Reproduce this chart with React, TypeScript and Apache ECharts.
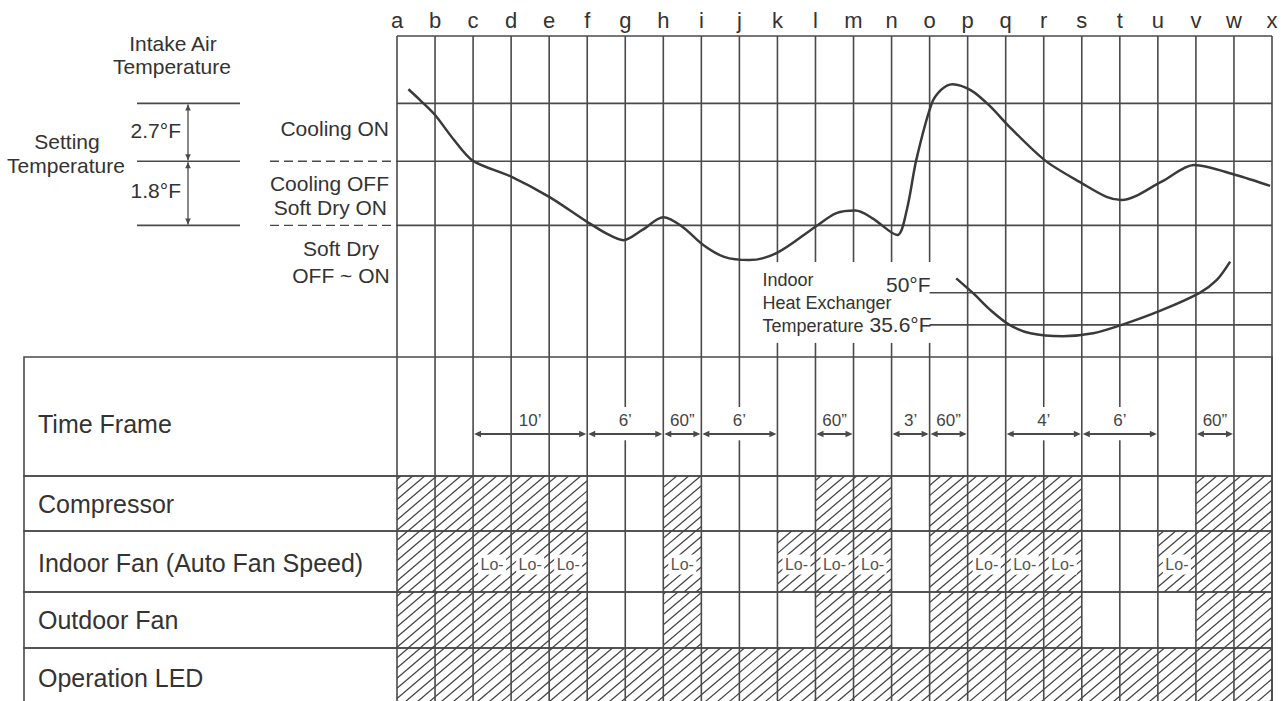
import React, { useEffect, useRef } from "react";
import * as echarts from "echarts";

// ---------------- data ----------------
const COLUMNS = ["a","b","c","d","e","f","g","h","i","j","k","l","m","n","o","p","q","r","s","t","u","v","w","x"];

// temperature levels (diagram units, 0 = bottom of diagram, 100 = top)
const LEVEL_COOLING_ON = 79;
const LEVEL_SETTING = 61;
const LEVEL_SOFT_DRY = 41;
const LEVEL_HEX_50F = 20;
const LEVEL_HEX_356F = 10;

// intake air temperature curve (x = column index a=0 ... x=23)
const INTAKE_X = [0.3, 0.6, 1.0, 1.5, 2.0, 3.0, 4.0, 5.0, 5.5, 5.95, 6.45, 7.0, 7.5, 8.05, 8.6, 9.25, 10.0, 11.0, 11.55, 12.05, 12.5, 13.15, 13.4, 13.65, 14.05, 14.3, 14.6, 15.1, 15.6, 16.1, 17.05, 18.05, 18.65, 19.05, 20.1, 20.95, 22.05, 22.95];
const INTAKE_Y = [83.4, 80.1, 75.4, 67.6, 61.1, 56.2, 49.9, 42.1, 38.5, 36.4, 39.6, 43.5, 40.6, 34.9, 31.2, 30.2, 32.5, 40.6, 44.8, 45.6, 43.2, 38.0, 45.8, 61.4, 78.8, 83.2, 85.0, 83.0, 78.0, 71.7, 61.1, 53.8, 49.9, 48.9, 54.6, 59.8, 56.7, 53.3];

// indoor heat exchanger temperature curve
const HEX_X = [14.7, 15.15, 15.6, 16.1, 16.65, 17.5, 18.3, 19.05, 20.1, 21.1, 21.55, 21.9];
const HEX_Y = [24.5, 19.8, 14.6, 10.0, 7.4, 6.5, 7.4, 10.0, 14.6, 20.0, 24.0, 29.7];

// time frames (column index from / to)
const TF_START = [2, 5, 7, 8, 11, 13, 14, 16, 18, 21];
const TF_END = [5, 7, 8, 10, 12, 14, 15, 18, 20, 22];
const TF_LABEL = ["10\u2019", "6\u2019", "60\u201D", "6\u2019", "60\u201D", "3\u2019", "60\u201D", "4\u2019", "6\u2019", "60\u201D"];

const ROW_NAMES = ["Time Frame", "Compressor", "Indoor Fan (Auto Fan Speed)", "Outdoor Fan", "Operation LED"];
const COMPRESSOR_ON = [[0, 5], [7, 8], [11, 13], [14, 18], [21, 23]];
const INDOOR_FAN_ON = [[0, 5], [7, 8], [10, 13], [14, 18], [20, 23]];
const INDOOR_FAN_LO = [2, 3, 4, 7, 10, 11, 12, 15, 16, 17, 20];
const OUTDOOR_FAN_ON = [[0, 5], [7, 8], [11, 13], [14, 18], [21, 23]];
const LED_ON = [[0, 23]];

// ---------------- layout / style ----------------
const W = 1283;
const H = 730;
const COL_LEFT = 397;
const RIGHT_PAD = 11;
const TABLE_LEFT = 24;
const DIAG_TOP = 36;
const ROW_TOPS = [357, 476, 531, 592, 648];
const ROW_HEIGHTS = [119, 55, 61, 56, 82];
const ROW_LABEL_POS = [0.563, 0.5, 0.53, 0.5, 0.366];
const BOX_FIRST_COL = 10;
const BOX_LAST_COL = 14;
const BOX_TOP_LEVEL = 29.6;
const BOX_BOTTOM_LEVEL = 4.4;
const TF_ARROW_POS = 0.647;
const TF_LABEL_POS = 0.53;
const TF_GAP_TOP = 0.42;
const TF_GAP_BOTTOM = 0.7;
const LO_POS = 0.55;
const HATCH_STEP = 12;
const HATCH_SLOPE = 0.85;

const LINE = "#4a4a4a";
const TEXT = "#333333";
const CURVE = "#3a3a3a";
const HATCH = "#444444";
const FONT = '"Liberation Sans", Arial, Helvetica, sans-serif';

type P = number[];

function seg(p1: P, p2: P, width = 1.6, color = LINE, dash?: number[]) {
  return {
    type: "line",
    shape: { x1: p1[0], y1: p1[1], x2: p2[0], y2: p2[1] },
    style: { stroke: color, lineWidth: width, lineDash: dash || null },
  };
}

function txt(text: string, x: number, y: number, size: number, align = "left", color = TEXT) {
  return {
    type: "text",
    x,
    y,
    style: {
      text,
      fill: color,
      font: `${size}px ${FONT}`,
      textAlign: align,
      textVerticalAlign: "middle",
      align,
      verticalAlign: "middle",
    },
  };
}

function head(tip: P, ux: number, uy: number, len = 7, half = 3.2, color = LINE) {
  const bx = tip[0] - ux * len;
  const by = tip[1] - uy * len;
  const nx = -uy;
  const ny = ux;
  return {
    type: "polygon",
    shape: { points: [[tip[0], tip[1]], [bx + nx * half, by + ny * half], [bx - nx * half, by - ny * half]] },
    style: { fill: color },
  };
}

function hatch(x0: number, x1: number, y0: number, y1: number, out: any[]) {
  const h = y1 - y0;
  const run = h / HATCH_SLOPE;
  const start = Math.floor((x0 - run) / HATCH_STEP) * HATCH_STEP;
  for (let cx = start; cx <= x1; cx += HATCH_STEP) {
    const xa = Math.max(cx, x0);
    const xb = Math.min(cx + run, x1);
    if (xb - xa < 0.5) continue;
    out.push(seg([xa, y1 - HATCH_SLOPE * (xa - cx)], [xb, y1 - HATCH_SLOPE * (xb - cx)], 1.25, HATCH));
  }
}

function buildOption() {
  const lastCol = COLUMNS.length - 1;
  const colStep = (W - RIGHT_PAD - COL_LEFT) / lastCol;
  const tableXMin = -(COL_LEFT - TABLE_LEFT) / colStep;
  const ROW_ON: any[] = [null, COMPRESSOR_ON, INDOOR_FAN_ON, OUTDOOR_FAN_ON, LED_ON];
  const ROW_LO: any[] = [null, null, INDOOR_FAN_LO, null, null];

  const grids: any[] = [
    { left: COL_LEFT, right: RIGHT_PAD, top: DIAG_TOP, height: ROW_TOPS[0] - DIAG_TOP, show: false },
  ];
  const xAxes: any[] = [
    {
      gridIndex: 0,
      type: "value",
      min: 0,
      max: lastCol,
      interval: 1,
      position: "top",
      axisLine: { show: false },
      axisTick: { show: false },
      splitLine: { show: false },
      axisLabel: {
        show: true,
        margin: 5,
        fontSize: 22,
        fontFamily: FONT,
        color: TEXT,
        showMinLabel: true,
        showMaxLabel: true,
        formatter: (v: number) => COLUMNS[Math.round(v)] ?? "",
      },
    },
  ];
  const yAxes: any[] = [{ gridIndex: 0, type: "value", min: 0, max: 100, show: false }];

  ROW_NAMES.forEach((_, r) => {
    grids.push({
      left: TABLE_LEFT,
      right: RIGHT_PAD,
      top: ROW_TOPS[r],
      height: ROW_HEIGHTS[r],
      show: true,
      borderColor: LINE,
      borderWidth: 1.6,
      backgroundColor: "transparent",
    });
    xAxes.push({ gridIndex: r + 1, type: "value", min: tableXMin, max: lastCol, show: false });
    yAxes.push({ gridIndex: r + 1, type: "value", min: 0, max: 1, inverse: true, show: false });
  });

  const renderDiagram = (_p: any, api: any) => {
    const c = (x: number, y: number) => api.coord([x, y]);
    const ch: any[] = [];
    ch.push(seg(c(0, 100), c(lastCol, 100)));
    COLUMNS.forEach((_, i) => {
      if (i >= BOX_FIRST_COL && i <= BOX_LAST_COL) {
        ch.push(seg(c(i, 100), c(i, BOX_TOP_LEVEL)));
        ch.push(seg(c(i, BOX_BOTTOM_LEVEL), c(i, 0)));
      } else {
        ch.push(seg(c(i, 100), c(i, 0)));
      }
    });
    [LEVEL_COOLING_ON, LEVEL_SETTING, LEVEL_SOFT_DRY].forEach((l) => ch.push(seg(c(0, l), c(lastCol, l))));
    [LEVEL_HEX_50F, LEVEL_HEX_356F].forEach((l) => ch.push(seg(c(BOX_LAST_COL, l), c(lastCol, l))));

    const ax = c(0, 0)[0];
    const yOn = c(0, LEVEL_COOLING_ON)[1];
    const ySet = c(0, LEVEL_SETTING)[1];
    const yDry = c(0, LEVEL_SOFT_DRY)[1];
    [ySet, yDry].forEach((y) => ch.push(seg([ax - 127, y], [ax, y], 1.4, LINE, [9, 5])));
    [yOn, ySet, yDry].forEach((y) => ch.push(seg([137, y], [240, y])));
    const arrowX = 188;
    [[yOn, ySet], [ySet, yDry]].forEach(([ya, yb]) => {
      ch.push(seg([arrowX, ya + 1], [arrowX, yb - 1], 1.3));
      ch.push(head([arrowX, ya + 1], 0, -1, 6, 2.8));
      ch.push(head([arrowX, yb - 1], 0, 1, 6, 2.8));
    });

    ch.push(txt("Intake Air", 173, 43, 21, "center"));
    ch.push(txt("Temperature", 172, 66, 21, "center"));
    ch.push(txt("2.7\u00B0F", 181, 130, 21, "right"));
    ch.push(txt("1.8\u00B0F", 181, 190, 21, "right"));
    ch.push(txt("Setting", 67, 141, 21, "center"));
    ch.push(txt("Temperature", 66, 165, 21, "center"));
    ch.push(txt("Cooling ON", ax - 8, 128, 21, "right"));
    ch.push(txt("Cooling OFF", ax - 8, 183, 21, "right"));
    ch.push(txt("Soft Dry ON", ax - 10, 207, 21, "right"));
    ch.push(txt("Soft Dry", ax - 56, 248, 21, "center"));
    ch.push(txt("OFF ~ ON", ax - 56, 275, 21, "center"));

    const boxLeft = c(BOX_FIRST_COL, 0)[0] - 15;
    const xo = c(BOX_LAST_COL, 0)[0];
    ch.push(txt("Indoor", boxLeft, 280, 18, "left"));
    ch.push(txt("Heat Exchanger", boxLeft, 303, 18, "left"));
    ch.push(txt("Temperature", boxLeft, c(0, LEVEL_HEX_356F)[1] + 1, 18, "left"));
    ch.push(txt("50\u00B0F", xo + 1, c(0, LEVEL_HEX_50F)[1] - 8, 21, "right"));
    ch.push(txt("35.6\u00B0F", xo + 2, c(0, LEVEL_HEX_356F)[1], 21, "right"));
    return { type: "group", children: ch };
  };

  const renderTimeFrame = (_p: any, api: any) => {
    const c = (x: number, y: number) => api.coord([x, y]);
    const ch: any[] = [];
    const centerCols = new Set<number>();
    TF_START.forEach((s, k) => {
      const span = TF_END[k] - s;
      if (span % 2 === 0) centerCols.add(s + span / 2);
    });
    COLUMNS.forEach((_, i) => {
      if (centerCols.has(i)) {
        ch.push(seg(c(i, 0), c(i, TF_GAP_TOP)));
        ch.push(seg(c(i, TF_GAP_BOTTOM), c(i, 1)));
      } else {
        ch.push(seg(c(i, 0), c(i, 1)));
      }
    });
    TF_START.forEach((s, k) => {
      const p1 = c(s, TF_ARROW_POS);
      const p2 = c(TF_END[k], TF_ARROW_POS);
      ch.push(seg([p1[0] + 3, p1[1]], [p2[0] - 3, p2[1]], 2.2));
      ch.push(head([p1[0] + 1, p1[1]], -1, 0, 7, 3.2));
      ch.push(head([p2[0] - 1, p2[1]], 1, 0, 7, 3.2));
      const mid = c((s + TF_END[k]) / 2, TF_LABEL_POS);
      ch.push(txt(TF_LABEL[k], mid[0], mid[1], 17, "center", "#444"));
    });
    ch.push(txt(ROW_NAMES[0], c(tableXMin, 0)[0] + 14, c(0, ROW_LABEL_POS[0])[1], 25, "left"));
    return { type: "group", children: ch };
  };

  const makeRowRenderer = (r: number) => (_p: any, api: any) => {
    const c = (x: number, y: number) => api.coord([x, y]);
    const ch: any[] = [];
    (ROW_ON[r] || []).forEach(([s, e]: number[]) => {
      const a = c(s, 0);
      const b = c(e, 1);
      hatch(a[0], b[0], a[1], b[1], ch);
    });
    (ROW_LO[r] || []).forEach((i: number) => {
      const cx = (c(i, 0)[0] + c(i + 1, 0)[0]) / 2;
      const cy = c(0, LO_POS)[1];
      ch.push({ type: "rect", shape: { x: cx - 14, y: cy - 10, width: 28, height: 20 }, style: { fill: "#ffffff" } });
      ch.push(txt("Lo-", cx, cy, 16, "center", "#555"));
    });
    COLUMNS.forEach((_, i) => ch.push(seg(c(i, 0), c(i, 1))));
    ch.push(txt(ROW_NAMES[r], c(tableXMin, 0)[0] + 14, c(0, ROW_LABEL_POS[r])[1], 25, "left"));
    return { type: "group", children: ch };
  };

  const series: any[] = [
    {
      type: "custom",
      xAxisIndex: 0,
      yAxisIndex: 0,
      data: [[0, 0]],
      renderItem: renderDiagram,
      clip: false,
      silent: true,
      z: 1,
    },
    {
      type: "line",
      name: "Intake Air Temperature",
      xAxisIndex: 0,
      yAxisIndex: 0,
      data: INTAKE_X.map((x, i) => [x, INTAKE_Y[i]]),
      smooth: 0.3,
      symbol: "none",
      lineStyle: { color: CURVE, width: 2.5 },
      silent: true,
      z: 5,
    },
    {
      type: "line",
      name: "Indoor Heat Exchanger Temperature",
      xAxisIndex: 0,
      yAxisIndex: 0,
      data: HEX_X.map((x, i) => [x, HEX_Y[i]]),
      smooth: 0.3,
      symbol: "none",
      lineStyle: { color: CURVE, width: 2.5 },
      silent: true,
      z: 5,
    },
    {
      type: "custom",
      xAxisIndex: 1,
      yAxisIndex: 1,
      data: [[0, 0.5]],
      renderItem: renderTimeFrame,
      clip: false,
      silent: true,
      z: 1,
    },
  ];
  for (let r = 1; r < ROW_NAMES.length; r++) {
    series.push({
      type: "custom",
      xAxisIndex: r + 1,
      yAxisIndex: r + 1,
      data: [[0, 0.5]],
      renderItem: makeRowRenderer(r),
      clip: false,
      silent: true,
      z: 1,
    });
  }

  return {
    animation: false,
    backgroundColor: "#ffffff",
    grid: grids,
    xAxis: xAxes,
    yAxis: yAxes,
    series,
  };
}

export default function App() {
  const ref = useRef<HTMLDivElement>(null);
  useEffect(() => {
    if (!ref.current) return;
    const chart = echarts.init(ref.current, null, { renderer: "svg", width: W, height: H });
    chart.setOption(buildOption() as any);
    return () => chart.dispose();
  }, []);
  return (
    <div
      ref={ref}
      style={{ position: "fixed", left: 0, top: 0, width: W, height: H, background: "#ffffff" }}
    />
  );
}
